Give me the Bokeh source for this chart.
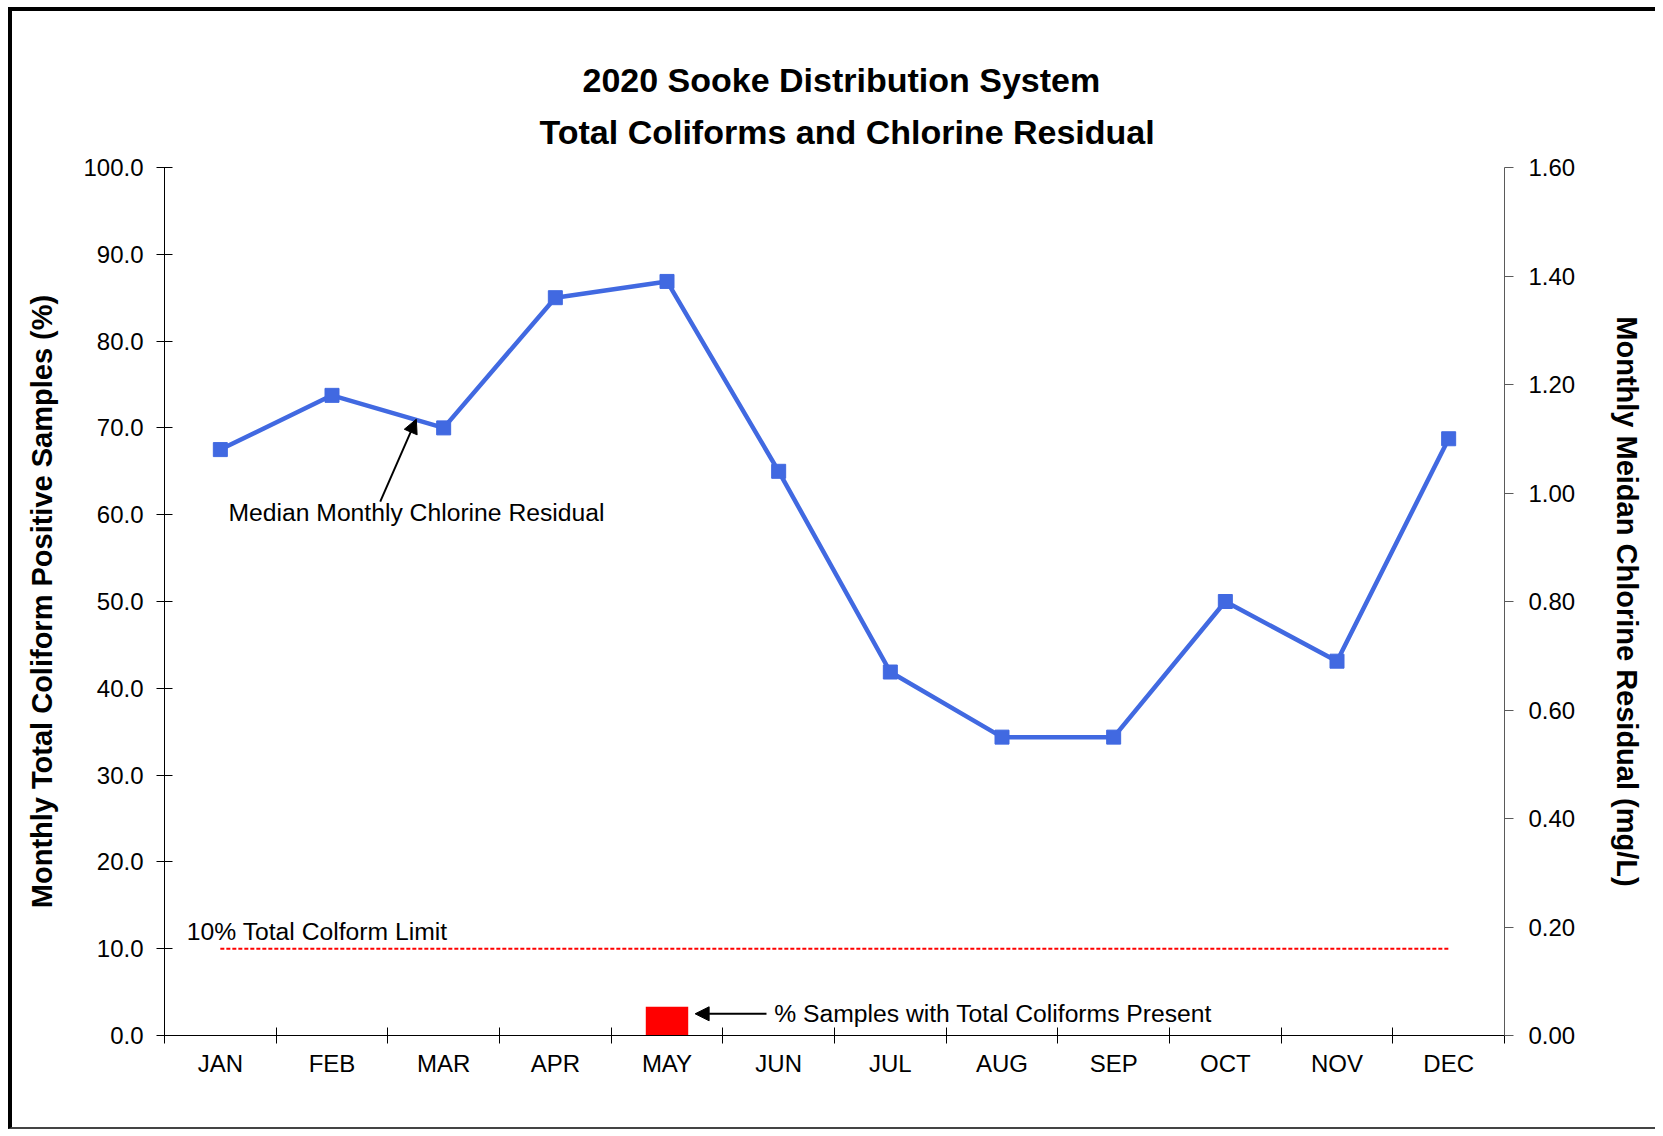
from bokeh.plotting import figure
from bokeh.models import (Range1d, LinearAxis, FixedTicker, NumeralTickFormatter, Title, Label,
                          Arrow, NormalHead, ColumnDataSource)
from bokeh.embed import file_html
from bokeh.resources import INLINE

# ---------------- data ----------------
months = ["JAN", "FEB", "MAR", "APR", "MAY", "JUN", "JUL", "AUG", "SEP", "OCT", "NOV", "DEC"]
chlorine_mg_l = [1.08, 1.18, 1.12, 1.36, 1.39, 1.04, 0.67, 0.55, 0.55, 0.80, 0.69, 1.10]
coliform_pct = [0.0, 0.0, 0.0, 0.0, 3.3, 0.0, 0.0, 0.0, 0.0, 0.0, 0.0, 0.0]
limit_pct = 10.0
left_ticks = [0, 10, 20, 30, 40, 50, 60, 70, 80, 90, 100]
right_ticks = [0.0, 0.2, 0.4, 0.6, 0.8, 1.0, 1.2, 1.4, 1.6]
title_lines = ["2020 Sooke Distribution System", "Total Coliforms and Chlorine Residual"]

# category slots: month i occupies [i, i+1] on the x scale
slot_centers = [i + 0.5 for i in range(len(months))]
slot_edges = list(range(len(months) + 1))

src = ColumnDataSource(dict(x=slot_centers, month=months, cl=chlorine_mg_l, tc=coliform_pct))

FONT = "Liberation Sans"

p = figure(width=1647, height=1122, output_backend="svg", toolbar_location=None,
           x_range=Range1d(0, len(months)), y_range=Range1d(0, 100),
           x_axis_location=None, y_axis_location=None,
           min_border_left=152, min_border_right=155, min_border_top=156, min_border_bottom=98,
           background_fill_color="white", border_fill_color="white", outline_line_color=None)
p.styles = {"border-left": "4px solid black", "border-top": "4px solid black",
            "border-bottom": "2px solid #444444", "margin-left": "8px", "margin-top": "7px"}
p.grid.visible = False
p.extra_y_ranges = {"cl": Range1d(0, 1.6)}

# title: second line added first so it sits closest to the frame
TITLE = dict(text_font=FONT, text_font_size="34px", text_font_style="bold",
             text_color="black", align="left")
p.add_layout(Title(text=title_lines[1], standoff=34, offset=375, **TITLE), "above")
p.add_layout(Title(text=title_lines[0], standoff=-11, offset=418, **TITLE), "above")

# left axis
ly = LinearAxis(ticker=FixedTicker(ticks=left_ticks), formatter=NumeralTickFormatter(format="0.0"),
                axis_label="Monthly Total Coliform Positive Samples (%)")
# right axis
ry = LinearAxis(y_range_name="cl", ticker=FixedTicker(ticks=right_ticks),
                formatter=NumeralTickFormatter(format="0.00"),
                axis_label="Monthly Meidan Chlorine Residual (mg/L)")
for ax in (ly, ry):
    ax.major_label_text_font = FONT
    ax.major_label_text_font_size = "24px"
    ax.major_label_text_color = "black"
    ax.axis_label_text_font = FONT
    ax.axis_label_text_font_size = "29px"
    ax.axis_label_text_font_style = "bold"
    ax.axis_label_text_color = "black"
    ax.minor_tick_line_color = None
ly.axis_line_color = "black"
ly.major_tick_line_color = "black"
ly.major_tick_in = 8
ly.major_tick_out = 8
ly.major_label_standoff = 13
ly.axis_label_standoff = 22
ry.axis_line_color = "#5a5a5a"
ry.major_tick_line_color = "#5a5a5a"
ry.major_tick_in = 0
ry.major_tick_out = 9
ry.major_label_standoff = 15
ry.axis_label_standoff = 33
p.add_layout(ly, "left")
p.add_layout(ry, "right")

# bottom axis: labels at slot centres, tick marks at slot boundaries
bx = LinearAxis(ticker=FixedTicker(ticks=slot_centers, minor_ticks=slot_edges),
                major_label_overrides={c: m for c, m in zip(slot_centers, months)},
                major_tick_line_color=None, major_tick_in=0, major_tick_out=0,
                minor_tick_line_color="black", minor_tick_in=8, minor_tick_out=8,
                major_label_standoff=6, axis_line_color="black",
                major_label_text_font=FONT, major_label_text_font_size="24px",
                major_label_text_color="black")
p.add_layout(bx, "below")

# data marks
p.vbar(x="x", top="tc", width=0.38, source=src, fill_color="#ff0000", line_color=None)
p.line(x=[slot_centers[0], slot_centers[-1]], y=[limit_pct, limit_pct], line_color="#ff0000",
       line_width=2, line_dash="4 2")
p.line(x="x", y="cl", source=src, y_range_name="cl", line_color="#4169e1", line_width=4.5)
p.scatter(x="x", y="cl", source=src, y_range_name="cl", marker="square", size=14,
          fill_color="#4169e1", line_color="#4169e1")

# annotations
ANN = dict(text_font=FONT, text_font_size="24.7px", text_color="black",
           text_baseline="middle", text_align="left")
p.add_layout(Label(x=0.2, y=11.95, text="10% Total Colform Limit", **ANN))
p.add_layout(Label(x=0.573, y=60.3, text="Median Monthly Chlorine Residual", **ANN))
p.add_layout(Arrow(end=NormalHead(size=14, fill_color="black", line_color="black"),
                   x_start=1.932, y_start=61.5, x_end=2.255, y_end=71.0,
                   line_color="black", line_width=2))
p.add_layout(Label(x=5.46, y=2.5, text="% Samples with Total Coliforms Present", **ANN))
p.add_layout(Arrow(end=NormalHead(size=14, fill_color="black", line_color="black"),
                   x_start=5.391, y_start=2.5, x_end=4.752, y_end=2.5,
                   line_color="black", line_width=2))

open("out.html", "w").write(file_html(p, INLINE))
